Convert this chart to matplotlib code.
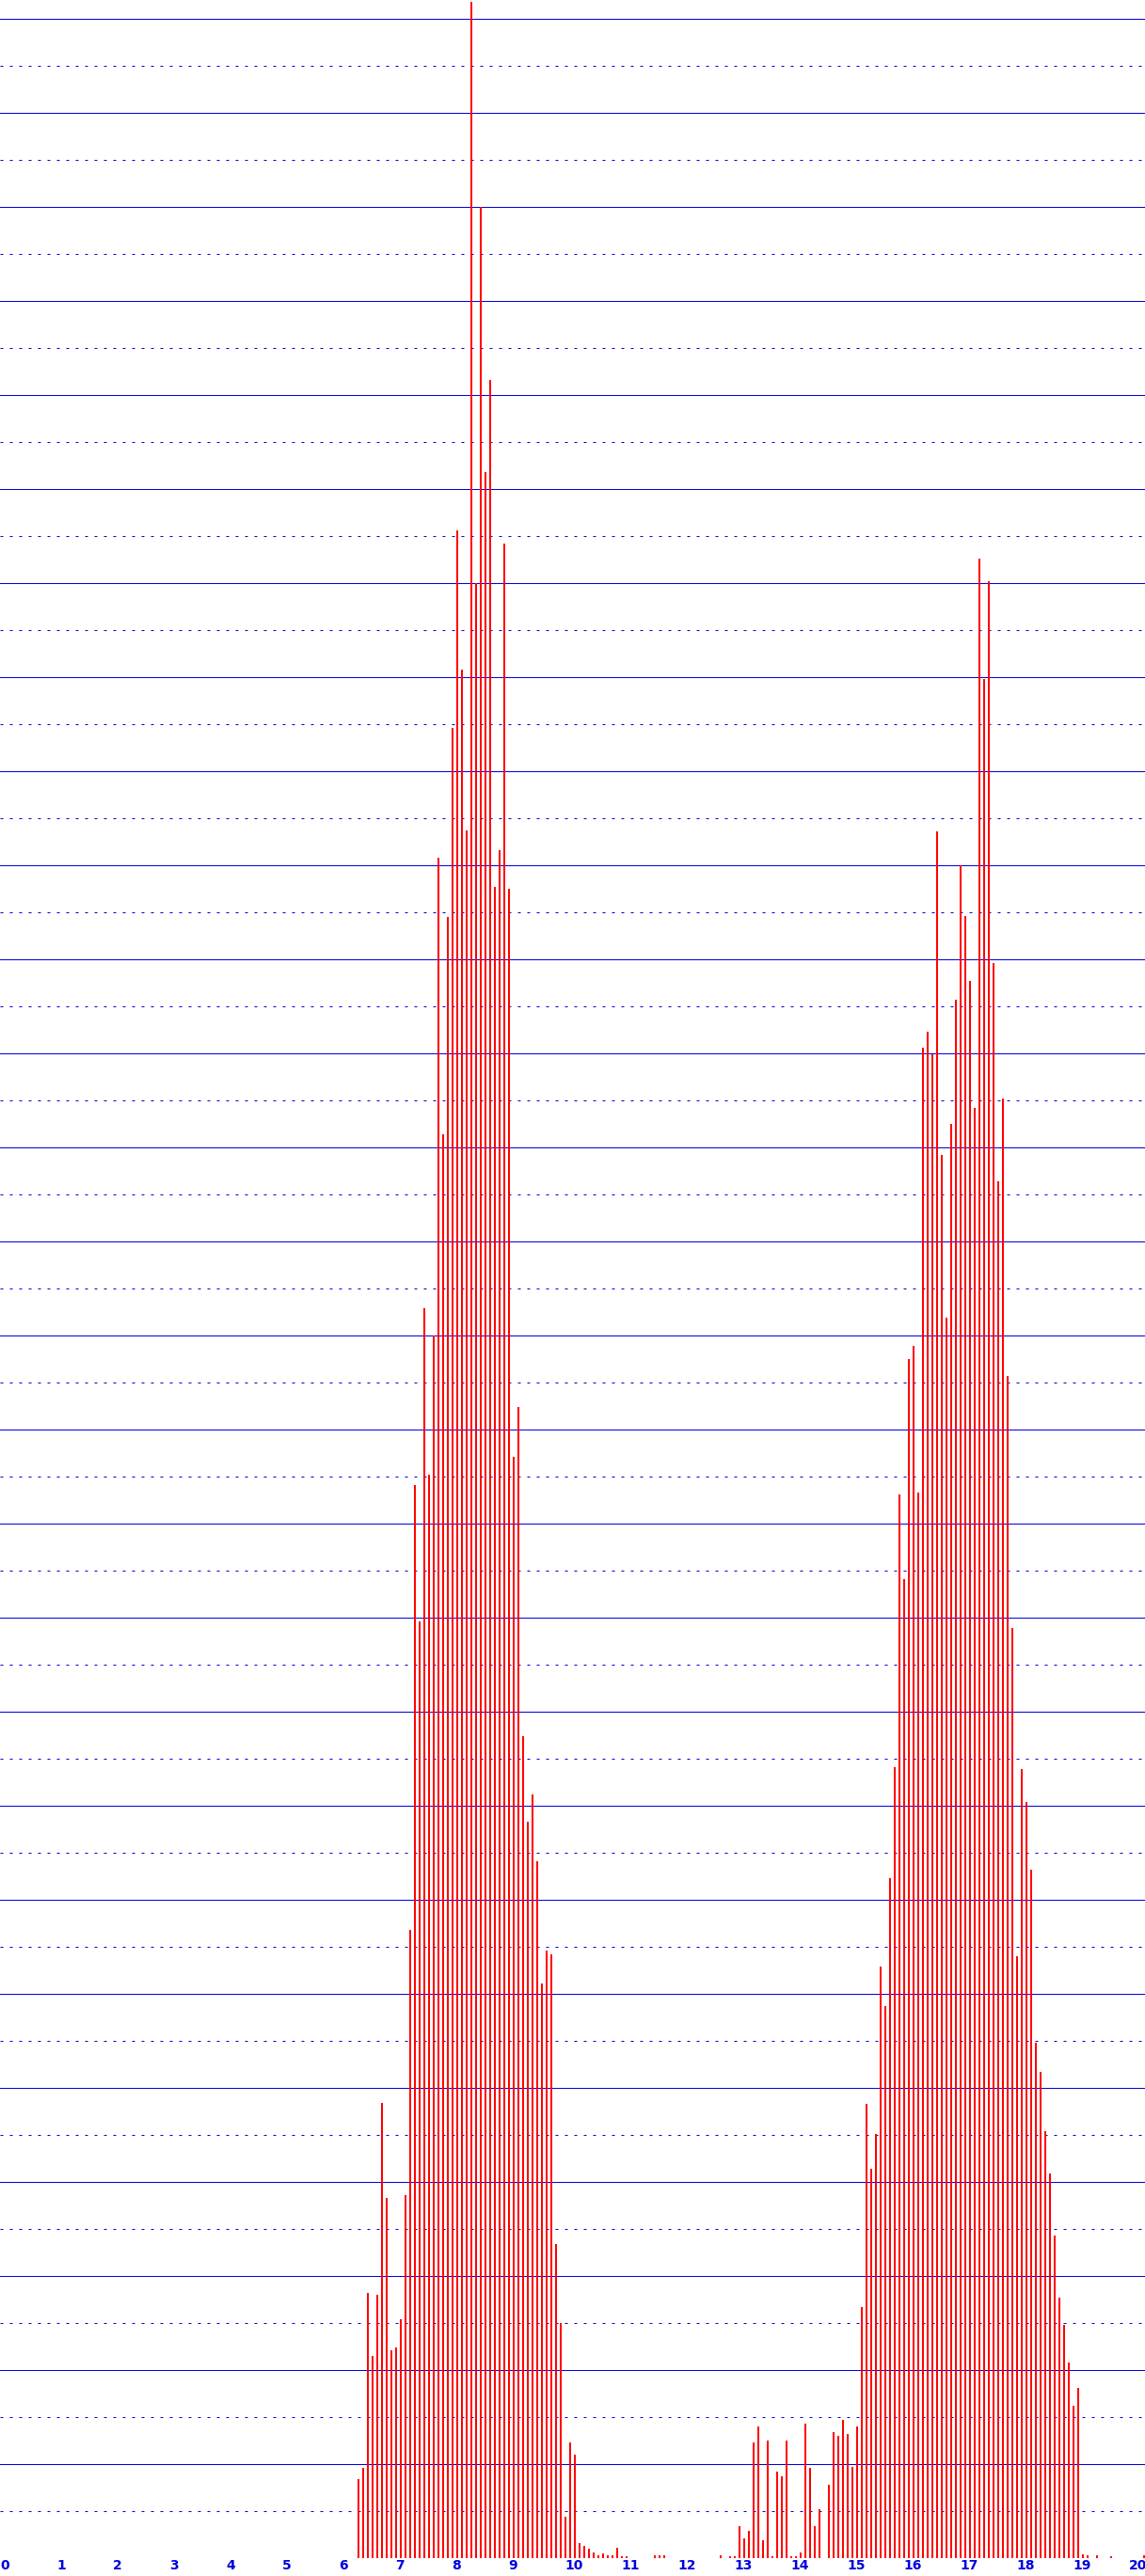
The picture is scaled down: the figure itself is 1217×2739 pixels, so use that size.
import numpy as np
import matplotlib
matplotlib.use("Agg")
import matplotlib.pyplot as plt

# histogram bins: first bin centre and bin width (x units)
bin_start = 6.35
bin_width = 1 / 12

# bar heights, one per bin (grid units)
left_peak = [0.84, 0.96, 2.82, 2.15, 2.80, 4.84, 3.83, 2.21, 2.24, 2.54,
             3.86, 6.68, 11.41, 9.96, 13.29, 11.52, 13.00, 18.08, 15.14, 17.44,
             19.46, 21.56, 20.08, 18.37, 27.18, 21.00, 25.00, 22.18, 23.16, 17.77,
             18.16, 21.42, 17.75, 11.71, 12.24, 8.74, 7.83, 8.12, 7.41, 6.11,
             6.46, 6.42, 3.34, 2.50, 0.44, 1.23, 1.10]
left_tail = [0.16, 0.13, 0.10, 0.06, 0.03, 0.05, 0.03, 0.03, 0.11, 0.02,
             0.02, 0, 0, 0, 0, 0, 0.03, 0.03, 0.03, 0,
             0, 0, 0, 0, 0, 0, 0, 0, 0, 0,
             0.03, 0, 0.02, 0.02, 0.34, 0.21, 0.29]
right_peak = [1.23, 1.40, 0.19, 1.25, 0.02, 0.92, 0.87, 1.25, 0.02, 0.02,
              0.06, 1.43, 0.96, 0.34, 0.52, 0, 0.78, 1.34, 1.30, 1.47,
              1.32, 0.97, 1.40, 2.67, 4.83, 4.14, 4.51, 6.29, 5.87, 7.23,
              8.41, 11.31, 10.41, 12.75, 12.89, 11.33, 16.06, 16.23, 15.99, 18.36,
              14.92, 13.19, 15.25, 16.57, 18.00, 17.46, 16.76, 15.42, 21.26, 19.98,
              21.02, 16.96, 14.64, 15.52, 12.57, 9.89, 6.40, 8.39, 8.04, 7.32,
              5.48, 5.17, 4.54, 4.09, 3.43, 2.77, 2.48, 2.08, 1.62, 1.81]
right_tail = [0.04, 0.03, 0, 0.03, 0, 0, 0.02, 0, 0, 0,
              0, 0, 0, 0.03]

x_ticks = list(range(0, 21))

heights = np.array(left_peak + left_tail + right_peak + right_tail)
centres = bin_start + bin_width * np.arange(len(heights))

W, H = 1217, 2739
fig = plt.figure(figsize=(W / 100, H / 100), dpi=100)
ax = fig.add_axes([0, (H - 2720) / H, 1, 2720 / H])
ax.set_xlim(0, W / 60)
ax.set_ylim(-0.005, 27.195)

grid_blue = "#0000dd"
ax.set_yticks(np.arange(0, 28))
ax.set_yticks(np.arange(0.5, 27), minor=True)
ax.grid(which="major", axis="y", color=grid_blue, linewidth=0.72)
ax.grid(which="minor", axis="y", color=grid_blue, linewidth=0.72,
        linestyle=(0, (3, 7)))
ax.set_axisbelow(True)

ax.bar(centres, heights, width=2 / 60, color="#ff0000", linewidth=0, zorder=3)

ax.set_xticks(x_ticks)
ax.set_xticklabels([str(t) for t in x_ticks], ha="left", color=grid_blue,
                   fontsize=10, fontweight="bold")
ax.tick_params(axis="x", length=0, pad=1)
ax.tick_params(axis="y", which="both", length=0, labelleft=False)
for s in ax.spines.values():
    s.set_visible(False)

fig.savefig("out.png", dpi=100)
